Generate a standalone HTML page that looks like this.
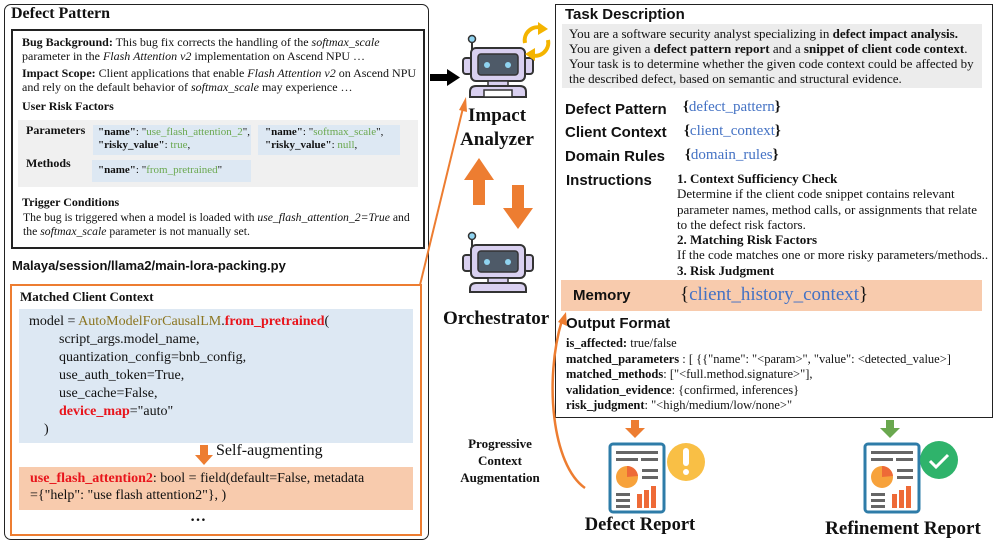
<!DOCTYPE html>
<html><head><meta charset="utf-8"><style>
body{margin:0;width:996px;height:545px;background:#fff;position:relative;overflow:hidden;font-family:"Liberation Serif",serif;color:#111}
.a{position:absolute;white-space:nowrap}
.s{font-family:"Liberation Sans",sans-serif}
.t{font-size:12px;line-height:14px}
.g{color:#6aa84f}
.r{color:#e8141b;font-weight:bold}
.bl{color:#4472c4}
b{font-weight:bold}
</style></head><body>
<!-- left outer -->
<div class="a" style="left:4px;top:4px;width:423px;height:534px;border:1.5px solid #222;border-radius:7px"></div>
<div class="a" style="left:11px;top:5px;font-size:16px;font-weight:bold">Defect Pattern</div>
<div class="a" style="left:11px;top:29px;width:410px;height:216px;border:2px solid #222"></div>
<div class="a t" style="left:22px;top:35px">
<b>Bug Background:</b> This bug fix corrects the handling of the <i>softmax_scale</i><br>parameter in the <i>Flash Attention v2</i> implementation on Ascend NPU …</div>
<div class="a t" style="left:22px;top:66px">
<b>Impact Scope:</b> Client applications that enable <i>Flash Attention v2</i> on Ascend NPU<br>and rely on the default behavior of <i>softmax_scale</i> may experience …</div>
<div class="a" style="left:22px;top:99px;font-size:12px;font-weight:bold">User Risk Factors</div>
<div class="a" style="left:18px;top:120px;width:400px;height:67px;background:#f0f0f0"></div>
<div class="a" style="left:26px;top:123px;font-size:12px;font-weight:bold">Parameters</div>
<div class="a" style="left:26px;top:156px;font-size:12px;font-weight:bold">Methods</div>
<div class="a" style="left:93px;top:125px;width:158px;height:30px;background:#dde8f3"></div>
<div class="a" style="left:258px;top:125px;width:142px;height:30px;background:#dde8f3"></div>
<div class="a" style="left:92px;top:160px;width:159px;height:22px;background:#dde8f3"></div>
<div class="a" style="left:98px;top:126px;font-size:11px;line-height:13px"><b>"name"</b>: "<span class="g">use_flash_attention_2</span>",<br><b>"risky_value"</b>: <span class="g">true</span>,</div>
<div class="a" style="left:265px;top:126px;font-size:11px;line-height:13px"><b>"name"</b>: "<span class="g">softmax_scale</span>",<br><b>"risky_value"</b>: <span class="g">null</span>,</div>
<div class="a" style="left:98px;top:164px;font-size:11px"><b>"name"</b>: "<span class="g">from_pretrained</span>"</div>
<div class="a" style="left:22px;top:195px;font-size:12px;font-weight:bold">Trigger Conditions</div>
<div class="a" style="left:23px;top:211px;font-size:11.7px;line-height:14px">The bug is triggered when a model is loaded with <i>use_flash_attention_2=True</i> and<br>the <i>softmax_scale</i> parameter is not manually set.</div>
<div class="a s" style="left:12px;top:258px;font-size:13px;font-weight:bold">Malaya/session/llama2/main-lora-packing.py</div>
<div class="a" style="left:10px;top:284px;width:408px;height:248px;border:2px solid #ed7d31"></div>
<div class="a" style="left:20px;top:289px;font-size:13px;font-weight:bold">Matched Client Context</div>
<div class="a" style="left:19px;top:309px;width:394px;height:134px;background:#dde8f3"></div>
<div class="a" style="left:29px;top:313px;font-size:14px;line-height:18px">model = <span style="color:#8b7520">AutoModelForCausalLM</span>.<span class="r">from_pretrained</span>(<br>
<span style="padding-left:30px">script_args.model_name,</span><br><span style="padding-left:30px">quantization_config=bnb_config,</span><br><span style="padding-left:30px">use_auth_token=True,</span><br><span style="padding-left:30px">use_cache=False,</span><br><span style="padding-left:30px"><span class="r">device_map</span>="auto"</span><br><span style="padding-left:15px">)</span></div>
<svg class="a" style="left:0;top:0" width="996" height="545">
<polygon points="200,445 208,445 208,455 213,455 204,465 195,455 200,455" fill="#ed7d31"/>
</svg>
<div class="a" style="left:216px;top:442px;font-size:16px">Self-augmenting</div>
<div class="a" style="left:19px;top:467px;width:394px;height:43px;background:#f8cbad"></div>
<div class="a" style="left:30px;top:470px;font-size:14px;line-height:17px"><span class="r">use_flash_attention2</span>: bool = field(default=False, metadata<br>={"help": "use flash attention2"}, )</div>
<div class="a" style="left:190px;top:508px;font-size:16px;font-weight:bold">…</div>

<!-- right box -->
<div class="a" style="left:555px;top:4px;width:436px;height:412px;border:1.5px solid #222"></div>
<div class="a s" style="left:565px;top:6px;font-size:15px;font-weight:bold">Task Description</div>
<div class="a" style="left:562px;top:24px;width:420px;height:64px;background:#ececec"></div>
<div class="a" style="left:569px;top:26px;font-size:13px;line-height:15px">You are a software security analyst specializing in <b>defect impact analysis.</b><br>You are given a <b>defect pattern report</b> and a <b>snippet of client code context</b>.<br>Your task is to determine whether the given code context could be affected by<br>the described defect, based on semantic and structural evidence.</div>
<div class="a s" style="left:565px;top:101px;font-size:15px;font-weight:bold">Defect Pattern</div>
<div class="a s" style="left:565px;top:124px;font-size:15px;font-weight:bold">Client Context</div>
<div class="a s" style="left:565px;top:148px;font-size:15px;font-weight:bold">Domain Rules</div>
<div class="a s" style="left:566px;top:172px;font-size:15px;font-weight:bold">Instructions</div>
<div class="a" style="left:683px;top:99px;font-size:15px"><b>{</b><span class="bl">defect_pattern</span><b>}</b></div>
<div class="a" style="left:684px;top:123px;font-size:15px"><b>{</b><span class="bl">client_context</span><b>}</b></div>
<div class="a" style="left:685px;top:147px;font-size:15px"><b>{</b><span class="bl">domain_rules</span><b>}</b></div>
<div class="a" style="left:677px;top:171px;font-size:13px;line-height:15.3px"><b>1. Context Sufficiency Check</b><br>Determine if the client code snippet contains relevant<br>parameter names, method calls, or assignments that relate<br>to the defect risk factors.<br><b>2. Matching Risk Factors</b><br>If the code matches one or more risky parameters/methods..<br><b>3. Risk Judgment</b></div>
<div class="a" style="left:561px;top:280px;width:421px;height:31px;background:#f8cbad"></div>
<div class="a s" style="left:573px;top:287px;font-size:15px;font-weight:bold">Memory</div>
<div class="a" style="left:680px;top:284px;font-size:19px">{<span class="bl">client_history_context</span>}</div>
<div class="a s" style="left:566px;top:315px;font-size:15px;font-weight:bold">Output Format</div>
<div class="a" style="left:566px;top:336px;font-size:12.5px;line-height:15.5px"><b>is_affected:</b> true/false<br><b>matched_parameters</b> : [ {{"name": "&lt;param&gt;", "value": &lt;detected_value&gt;]<br><b>matched_methods</b>: ["&lt;full.method.signature&gt;"],<br><b>validation_evidence</b>: {confirmed, inferences}<br><b>risk_judgment</b>: "&lt;high/medium/low/none&gt;"</div>

<svg class="a" style="left:0;top:0" width="996" height="545">
<rect x="430" y="74" width="18" height="7" fill="#000"/><polygon points="447,69 460,77.5 447,86" fill="#000"/>
<line x1="420" y1="285" x2="463" y2="108" stroke="#ed7d31" stroke-width="2"/>
<polygon points="466,97 467,112 459,110" fill="#ed7d31"/>
<polygon points="473,205 485,205 485,180 494,180 479,158 464,180 473,180" fill="#ed7d31"/>
<polygon points="512,185 524,185 524,208 533,208 518,229 503,208 512,208" fill="#ed7d31"/>
<path d="M585,488 C552,465 544,380 562,320" fill="none" stroke="#ed7d31" stroke-width="2.5"/>
<polygon points="566,312 567,326 558,322" fill="#ed7d31"/>
<polygon points="631,420 639,420 639,428 645,428 635,438 625,428 631,428" fill="#ed7d31"/>
<polygon points="886,420 894,420 894,428 900,428 890,438 880,428 886,428" fill="#6aa84f"/>
<g>
<line x1="472" y1="40" x2="472" y2="52" stroke="#333" stroke-width="2"/><circle cx="472" cy="39" r="3.5" fill="#8fd3f0" stroke="#333" stroke-width="1.5"/>
<rect x="463" y="58" width="9" height="16" rx="3" fill="#d9d0f0" stroke="#333" stroke-width="2"/>
<rect x="524" y="58" width="9" height="16" rx="3" fill="#d9d0f0" stroke="#333" stroke-width="2"/>
<rect x="471" y="48" width="54" height="33" rx="5" fill="#d9d0f0" stroke="#333" stroke-width="2"/>
<rect x="478" y="54" width="40" height="21" rx="3" fill="#4e5a68" stroke="#333" stroke-width="1.5"/>
<circle cx="487" cy="65" r="3" fill="#8fd3f0"/><circle cx="508" cy="65" r="3" fill="#8fd3f0"/>
<rect x="488" y="81" width="20" height="5" fill="#d9d0f0" stroke="#333" stroke-width="1.5"/>
<path d="M470,97 L470,92 Q470,86 476,86 L520,86 Q526,86 526,92 L526,97 Z" fill="#d9d0f0" stroke="#333" stroke-width="2"/>
<rect x="484" y="90" width="28" height="7" fill="#fff" stroke="#333" stroke-width="1.5"/>
</g>
<g transform="translate(0,197)">
<line x1="472" y1="40" x2="472" y2="52" stroke="#333" stroke-width="2"/><circle cx="472" cy="39" r="3.5" fill="#8fd3f0" stroke="#333" stroke-width="1.5"/>
<rect x="463" y="58" width="9" height="16" rx="3" fill="#d9d0f0" stroke="#333" stroke-width="2"/>
<rect x="524" y="58" width="9" height="16" rx="3" fill="#d9d0f0" stroke="#333" stroke-width="2"/>
<rect x="471" y="48" width="54" height="33" rx="5" fill="#d9d0f0" stroke="#333" stroke-width="2"/>
<rect x="478" y="54" width="40" height="21" rx="3" fill="#4e5a68" stroke="#333" stroke-width="1.5"/>
<circle cx="487" cy="65" r="3" fill="#8fd3f0"/><circle cx="508" cy="65" r="3" fill="#8fd3f0"/>
<rect x="488" y="81" width="20" height="5" fill="#d9d0f0" stroke="#333" stroke-width="1.5"/>
<path d="M470,95 L470,92 Q470,86 476,86 L520,86 Q526,86 526,92 L526,95 Z" fill="#d9d0f0" stroke="#333" stroke-width="2"/>
</g>
<path d="M525,43 A13,13 0 0 1 542,28" fill="none" stroke="#f4b400" stroke-width="4"/>
<polygon points="538,22 548,29 538,35" fill="#f4b400"/>
<path d="M548,40 A13,13 0 0 1 531,55" fill="none" stroke="#f4b400" stroke-width="4"/>
<polygon points="535,61 525,54 535,48" fill="#f4b400"/>
<g>
<rect x="610" y="444" width="54" height="68" rx="3" fill="#fff" stroke="#2e7ca8" stroke-width="3"/>
<rect x="616" y="451" width="42" height="3" fill="#666"/>
<rect x="616" y="458" width="22" height="3" fill="#666"/><rect x="641" y="458" width="17" height="3" fill="#666"/>
<circle cx="627" cy="477" r="11" fill="#f7a23b"/><path d="M627,477 L627,466 A11,11 0 0 1 638,476 Z" fill="#ee6a37"/>
<rect x="642" y="469" width="16" height="3" fill="#666"/><rect x="642" y="476" width="16" height="3" fill="#666"/>
<rect x="616" y="493" width="14" height="3" fill="#666"/><rect x="616" y="499" width="14" height="3" fill="#666"/><rect x="616" y="505" width="14" height="3" fill="#666"/>
<rect x="637" y="494" width="5" height="14" fill="#ee6a37"/><rect x="644" y="490" width="5" height="18" fill="#ee6a37"/><rect x="651" y="486" width="5" height="22" fill="#ee6a37"/>
<circle cx="686" cy="462" r="19" fill="#f9bf45"/><rect x="683" y="448" width="6" height="18" rx="3" fill="#fff"/><circle cx="686" cy="472" r="3" fill="#fff"/>
</g>
<g transform="translate(255,0)">
<rect x="610" y="444" width="54" height="68" rx="3" fill="#fff" stroke="#2e7ca8" stroke-width="3"/>
<rect x="616" y="451" width="42" height="3" fill="#666"/>
<rect x="616" y="458" width="22" height="3" fill="#666"/><rect x="641" y="458" width="17" height="3" fill="#666"/>
<circle cx="627" cy="477" r="11" fill="#f7a23b"/><path d="M627,477 L627,466 A11,11 0 0 1 638,476 Z" fill="#ee6a37"/>
<rect x="642" y="469" width="16" height="3" fill="#666"/><rect x="642" y="476" width="16" height="3" fill="#666"/>
<rect x="616" y="493" width="14" height="3" fill="#666"/><rect x="616" y="499" width="14" height="3" fill="#666"/><rect x="616" y="505" width="14" height="3" fill="#666"/>
<rect x="637" y="494" width="5" height="14" fill="#ee6a37"/><rect x="644" y="490" width="5" height="18" fill="#ee6a37"/><rect x="651" y="486" width="5" height="22" fill="#ee6a37"/>
<circle cx="684" cy="460" r="19" fill="#2fb36b"/><polyline points="675,461 681,467 693,455" fill="none" stroke="#fff" stroke-width="3"/>
</g>
</svg>
<div class="a" style="left:442px;top:104px;width:110px;text-align:center;font-size:19px;font-weight:bold;line-height:24px">Impact<br>Analyzer</div>
<div class="a" style="left:443px;top:308px;font-size:19px;font-weight:bold">Orchestrator</div>
<div class="a" style="left:450px;top:435px;width:100px;text-align:center;font-size:13px;font-weight:bold;line-height:17px">Progressive<br>Context<br>Augmentation</div>
<div class="a" style="left:575px;top:515px;width:130px;text-align:center;font-size:18.5px;font-weight:bold">Defect Report</div>
<div class="a" style="left:813px;top:518px;width:180px;text-align:center;font-size:19px;font-weight:bold">Refinement Report</div>
</body></html>
